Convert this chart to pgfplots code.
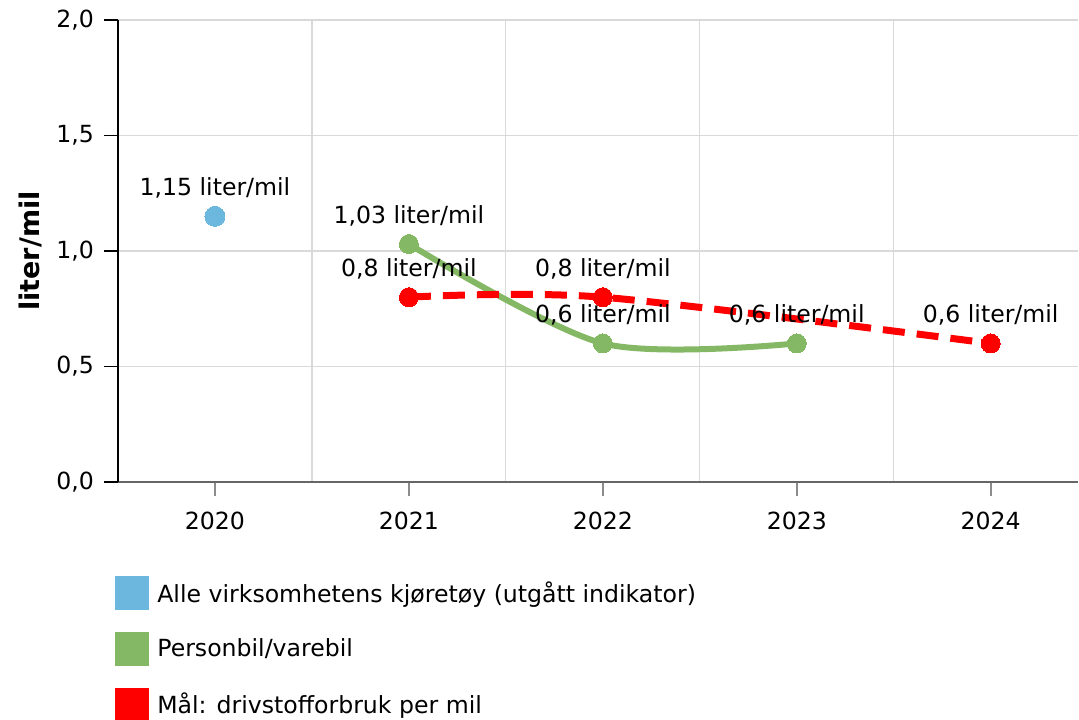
\documentclass[border=0pt]{standalone}
\usepackage{fontspec}
\setmainfont{DejaVu Sans}
\usepackage{pgfplots}
\pgfplotsset{compat=1.18}

\definecolor{cblue}{HTML}{6BB7DD}
\definecolor{cgreen}{HTML}{85B865}
\definecolor{cred}{HTML}{FF0000}

\begin{document}
\begin{tikzpicture}
\begin{axis}[
    name=ax,
    scale only axis,
    width=480bp, height=231bp,
    xmin=-0.5, xmax=4.45, ymin=0, ymax=2,
    xtick={0,...,4},
    xticklabels={2020,2021,2022,2023,2024},
    minor xtick={0.5,1.5,2.5,3.5},
    ytick={0,0.5,...,2},
    xminorgrids, ymajorgrids,
    grid style={black!15, line width=0.6bp},
    axis x line*=bottom, axis y line*=left,
    x axis line style={black!60, line width=0.9bp, -},
    y axis line style={black, line width=0.9bp, -},
    tick align=outside,
    major tick length=7bp, minor tick length=0pt,
    x tick style={black!45, line width=0.9bp},
    y tick style={black, line width=0.9bp},
    font=\fontsize{11.8bp}{14bp}\selectfont,
    x tick label style={yshift=-4.5bp},
    y tick label style={xshift=-1.5bp,
      /pgf/number format/.cd, fixed, fixed zerofill, precision=1, use comma, assume math mode=true},
    ylabel={\bfseries liter/mil},
    every axis y label/.style={at={(axis description cs:0,0.5)}, xshift=-44bp, rotate=90, anchor=center,
      font=\fontsize{13.5bp}{15bp}\selectfont},
    legend style={at={(-0.004,-0.2035)}, anchor=north west, draw=none, fill=none,
      inner sep=0pt, row sep=11bp, font=\fontsize{11.8bp}{14bp}\selectfont,
      nodes={inner xsep=4.5bp}},
    legend cell align=left,
    nodes near coords style={text=black, anchor=base, yshift=10.5bp, font=\fontsize{11.8bp}{14bp}\selectfont},
]
% series
\addplot[forget plot, only marks, mark=*, mark size=5bp, cblue, mark options={line width=0pt}] coordinates {(0,1.15)};
\addplot[forget plot, cgreen, line width=3bp, smooth, mark=*, mark size=4.75bp,
  mark options={solid, line width=0pt}] coordinates {(1,1.03) (2,0.6) (3,0.6)};
\addplot[forget plot, cred, line width=3.5bp, smooth, dash pattern=on 11bp off 6bp,
  mark=*, mark size=4.75bp, mark options={solid, line width=0pt}] coordinates {(1,0.8) (2,0.8) (4,0.6)};
% data labels on top
\addplot[forget plot, draw=none, mark=none, nodes near coords, point meta=explicit symbolic]
  coordinates {(0,1.15) [1,15 liter/mil]};
\addplot[forget plot, draw=none, mark=none, nodes near coords, point meta=explicit symbolic]
  coordinates {(1,1.03) [1,03 liter/mil] (2,0.6) [0,6 liter/mil] (3,0.6) [0,6 liter/mil]};
\addplot[forget plot, draw=none, mark=none, nodes near coords, point meta=explicit symbolic]
  coordinates {(1,0.8) [0,8 liter/mil] (2,0.8) [0,8 liter/mil] (4,0.6) [0,6 liter/mil]};
% legend
\addlegendimage{legend image code/.code={\fill[cblue] (0bp,-8.25bp) rectangle (16.5bp,8.25bp);}}
\addlegendentry{Alle virksomhetens kjøretøy (utgått indikator)}
\addlegendimage{legend image code/.code={\fill[cgreen] (0bp,-8.25bp) rectangle (16.5bp,8.25bp);}}
\addlegendentry{Personbil/varebil}
\addlegendimage{legend image code/.code={\fill[cred] (0bp,-8.25bp) rectangle (16.5bp,8.25bp);}}
\addlegendentry{Mål: drivstofforbruk per mil}
\end{axis}
\pgfresetboundingbox
\path[use as bounding box] ([xshift=-59bp,yshift=10bp]ax.north west) rectangle ([xshift=0.5bp,yshift=-119bp]ax.south east);
\end{tikzpicture}
\end{document}
